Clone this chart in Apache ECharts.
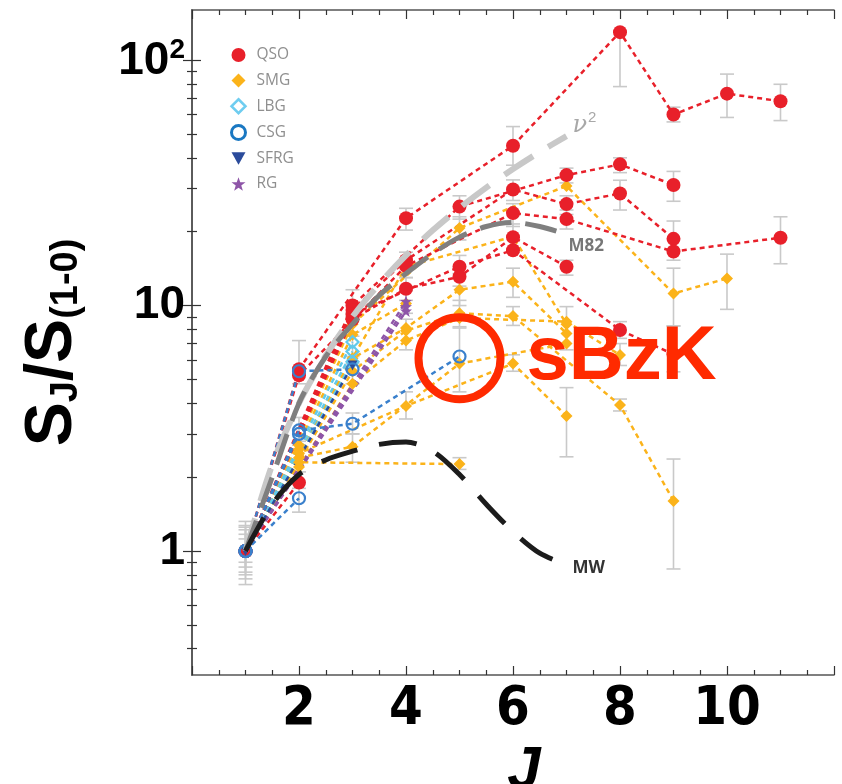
<!DOCTYPE html>
<html>
<head>
<meta charset="utf-8">
<script src="https://cdn.jsdelivr.net/npm/echarts@6/dist/echarts.min.js"></script>
<style>
html,body{margin:0;padding:0;background:#fff;}
#chart{width:842px;height:784px;}
</style>
</head>
<body>
<div id="chart"></div>
<script>
// ---- axis ranges and ticks ----
const J_MIN = 0, J_MAX = 12;
const Y_MIN = 0.3125, Y_MAX = 160;
const yMajorTicks = [1, 10, 100];
const yMinorTicks = [0.4, 0.5, 0.6, 0.7, 0.8, 0.9, 2, 3, 4, 5, 6, 7, 8, 9, 20, 30, 40, 50, 60, 70, 80, 90];
const xLabelValues = [2, 4, 6, 8, 10];

// ---- CO SLEDs normalised to the J=1-0 line: [J, S_J/S_1-0] ----
// QSO
const qsoA = [[1,1],[2,5.5],[4,22.7],[6,44.8],[8,130],[9,60],[10,73],[11,68]];
const qsoB = [[1,1],[3,10.0],[5,25.3],[7,34],[8,37.6],[9,31]];
const qsoC = [[1,1],[3,9.6],[4,15.3],[6,29.7],[7,25.9],[8,28.6],[9,18.7]];
const qsoD = [[1,1],[2,5.2],[4,14.5],[6,23.8],[7,22.5],[9,16.6],[11,18.9]];
const qsoE = [[1,1],[3,9.2],[5,14.4],[6,16.8],[8,7.95],[9,6.33]];
const qsoF = [[1,1],[3,8.8],[4,11.7],[5,13.1],[6,19.0],[7,14.4]];
const qsoG = [[1,1],[2,1.9]];
// SMG
const smgA = [[1,1],[3,8.4],[5,20.7],[7,30.7],[9,11.2],[10,12.9]];
const smgB = [[1,1],[2,2.6],[4,14.4],[6,19.1],[7,8.4]];
const smgC = [[1,1],[3,6.1],[4,8.1],[5,11.6],[6,12.5],[7,7.7]];
const smgD = [[1,1],[3,5.4],[4,7.9],[5,9.3],[6,9.06],[8,3.93],[9,1.6]];
const smgE = [[1,1],[3,4.8],[4,7.2],[5,8.9],[7,8.6],[8,6.29]];
const smgF = [[1,1],[2,2.5],[4,3.9],[6,5.8],[7,3.55]];
const smgG = [[1,1],[2,2.4],[3,2.66],[5,5.8],[7,7.0]];
const smgH = [[1,1],[2,2.3],[5,2.26]];
const smgI = [[1,1],[2,2.7]];
const smgJ = [[1,1],[2,2.2]];
const smgK = [[1,1],[3,7.6],[4,10.2]];
// LBG
const lbgA = [[1,1],[3,7.1]];
const lbgB = [[1,1],[3,6.5]];
const lbgC = [[1,1],[3,5.9]];
// CSG
const csgA = [[1,1],[2,5.4],[3,5.5]];
const csgB = [[1,1],[2,3.1],[3,3.3],[5,6.2]];
const csgC = [[1,1],[2,3.0]];
const csgD = [[1,1],[2,1.64]];
// SFRG
const sfrgA = [[1,1],[3,5.7]];
// RG
const rgA = [[1,1],[4,10.4]];
const rgB = [[1,1],[4,9.9]];
const rgC = [[1,1],[4,9.5]];

// ---- model curves ----
const nuSquared = [[1,1],[1.5,2.25],[2,4],[2.5,6.25],[3,9],[3.5,12.25],[4,16],[4.5,20.25],[5,25],[5.5,30.25],[6,36],[6.5,42.25],[7,49]];
const m82 = [[1,1],[1.5,2.0],[2,4.0],[2.5,6.2],[3,8.4],[3.5,11],[4,13.5],[4.5,16.3],[5,19],[5.5,21],[6,21.8],[6.5,21],[7,19.5]];
const milkyWay = [[1,1],[1.5,1.55],[2,2.05],[2.5,2.35],[3,2.55],[3.5,2.72],[4,2.78],[4.5,2.55],[5,2.05],[5.5,1.55],[6,1.2],[6.5,0.98],[7,0.88]];

// ---- error bars: [J, low, high] ----
const errorBars = [
  [1,0.73,1.32],[1,0.77,1.27],[1,0.82,1.22],[1,0.86,1.17],[1,0.9,1.12],[1,0.8,1.25],
  [2,4.8,7.2],[2,2.7,3.5],[2,2.1,2.8],[2,1.44,1.8],
  [3,9.0,11.6],[3,7.5,9.3],[3,5.8,7.8],[3,4.8,6.2],[3,3.0,3.65],[3,2.3,3.0],
  [4,20.3,24.9],[4,13,16.5],[4,10.5,13],[4,9.3,11.5],[4,6.6,8.8],[4,3.45,4.45],
  [5,22.5,28],[5,18.5,23],[5,12,16],[5,10,13.5],[5,8.2,10.5],[5,4.45,8.1],[5,2.15,2.4],
  [6,37.3,53.6],[6,26.8,32.5],[6,21,26],[6,16.5,21.5],[6,10.8,14.2],[6,8.3,9.9],[6,5.4,6.3],
  [7,31.6,36.3],[7,23.5,28],[7,20.5,24.5],[7,13.3,15.3],[7,6.6,9.9],[7,2.42,4.63],
  [8,78,131],[8,34.8,40.0],[8,24.5,32.4],[8,7.35,8.6],[8,5.7,7.0],[8,3.72,4.16],
  [9,56,64.3],[9,26.6,35.2],[9,15.3,22.1],[9,5.37,8.26],[9,8.26,14.2],[9,0.845,2.37],
  [10,58.4,87.7],[10,9.65,16.2],
  [11,56.7,79.7],[11,14.8,23.0]
];

// ---- highlighted sBzK position ----
const sbzkMark = [[5, 6.1]];

// ---- styling ----
const C = {
  QSO: '#e8202a', SMG: '#fbb31a', LBG: '#62c9ea', CSG: '#3a80cc',
  SFRG: '#2b4b9b', RG: '#8e55a8', err: '#c9c9c9', axis: '#555'
};
const STAR = 'path://M50,2 L62,36 L98,37 L69,59 L80,95 L50,74 L20,95 L31,59 L2,37 L38,36 Z';
const TRI_DOWN = 'path://M0,0 L10,0 L5,9 Z';
const DASH = [5, 4];
const CLEAR = 'rgba(0,0,0,0)';

function sled(name, data, opts) {
  return {
    type: 'line', name: name, data: data,
    symbol: opts.symbol, symbolSize: opts.size,
    itemStyle: Object.assign({ color: C[name], opacity: 1 }, opts.item || {}),
    lineStyle: { color: C[name], width: 2.5, type: DASH },
    emphasis: { disabled: true }, silent: true, z: opts.z || 3
  };
}

const series = [];
// error bars beneath everything
series.push({
  type: 'custom', name: 'errors', data: errorBars, z: 1, silent: true,
  encode: { x: 0, y: [1, 2] },
  renderItem: function (params, api) {
    const x = api.value(0);
    const lo = api.coord([x, api.value(1)]);
    const hi = api.coord([x, api.value(2)]);
    const hw = 7;
    const st = { stroke: C.err, lineWidth: 1.6 };
    return {
      type: 'group', children: [
        { type: 'line', shape: { x1: lo[0], y1: lo[1], x2: hi[0], y2: hi[1] }, style: st },
        { type: 'line', shape: { x1: lo[0] - hw, y1: lo[1], x2: lo[0] + hw, y2: lo[1] }, style: st },
        { type: 'line', shape: { x1: hi[0] - hw, y1: hi[1], x2: hi[0] + hw, y2: hi[1] }, style: st }
      ]
    };
  }
});
[smgA, smgB, smgC, smgD, smgE, smgF, smgG, smgH, smgI, smgJ, smgK].forEach(d =>
  series.push(sled('SMG', d, { symbol: 'diamond', size: 12 })));
[lbgA, lbgB, lbgC].forEach(d =>
  series.push(sled('LBG', d, { symbol: 'diamond', size: 12,
    item: { color: CLEAR, borderColor: C.LBG, borderWidth: 2.2 } })));
[rgA, rgB, rgC].forEach(d =>
  series.push(sled('RG', d, { symbol: STAR, size: 12 })));
[qsoA, qsoB, qsoC, qsoD, qsoE, qsoF, qsoG].forEach(d =>
  series.push(sled('QSO', d, { symbol: 'circle', size: 14 })));
[sfrgA].forEach(d =>
  series.push(sled('SFRG', d, { symbol: TRI_DOWN, size: 10 })));
[csgA, csgB, csgC, csgD].forEach(d =>
  series.push(sled('CSG', d, { symbol: 'circle', size: 12,
    item: { color: CLEAR, borderColor: C.CSG, borderWidth: 2.2 } })));

// model curves
function model(name, data, color, width, dash, endLabel) {
  return {
    type: 'line', name: name, data: data, smooth: 0.3, symbol: 'none', silent: true,
    lineStyle: { color: color, width: width, type: dash, cap: 'butt' },
    emphasis: { disabled: true }, z: 5, endLabel: endLabel
  };
}
series.push(model('nu2', nuSquared, '#c8c8c8', 6, [34, 18], {
  show: true, formatter: '{v|ν}{s|2}', distance: 6, offset: [0, -12],
  rich: {
    v: { fontFamily: 'DejaVu Serif', fontStyle: 'italic', fontSize: 24, color: '#a8a8a8', verticalAlign: 'bottom' },
    s: { fontFamily: 'Liberation Sans', fontSize: 15, color: '#a8a8a8', verticalAlign: 'bottom', padding: [0, 0, 12, 1] }
  }
}));
series.push(model('M82', m82, '#7f7f7f', 5, [32, 14], {
  show: true, formatter: 'M82', distance: 2, offset: [0, 12],
  color: '#777', fontFamily: 'Open Sans', fontWeight: 'bold', fontSize: 17
}));
series.push(model('MW', milkyWay, '#1c1c1c', 5, [38, 22], {
  show: true, formatter: 'MW', distance: 6, offset: [0, 4],
  color: '#333', fontFamily: 'Open Sans', fontWeight: 'bold', fontSize: 17
}));

// sBzK marker and label
series.push({
  type: 'scatter', name: 'sBzK', data: sbzkMark, z: 10, silent: true,
  symbol: 'circle', symbolSize: 82,
  itemStyle: { color: CLEAR, borderColor: '#ff2a00', borderWidth: 8, opacity: 1 },
  label: {
    show: true, position: 'right', distance: 22, formatter: 'sBzK', opacity: 1,
    color: '#ff2a00', fontFamily: 'Liberation Sans', fontWeight: 'bold', fontSize: 76
  }
});

const tickStyle = { color: '#333', width: 1.2 };
const frameLine = { show: true, lineStyle: { color: C.axis, width: 1.6 } };
const GRID = { left: 192, right: 8, top: 10, bottom: 109, containLabel: false, outerBoundsMode: 'none' };

function yAxisDef(gridIndex, position, ticks, len, extra) {
  return Object.assign({
    gridIndex: gridIndex,
    type: 'log', logBase: 10, min: Y_MIN, max: Y_MAX, position: position,
    axisLine: { show: false },
    axisTick: { show: true, inside: true, length: len, customValues: ticks, lineStyle: tickStyle },
    axisLabel: { show: false },
    splitLine: { show: false }
  }, extra || {});
}
function xAxisDef(gridIndex, position, extra) {
  return Object.assign({
    gridIndex: gridIndex,
    type: 'value', min: J_MIN, max: J_MAX, interval: 2, position: position,
    axisLine: frameLine,
    axisTick: { show: true, inside: true, length: 9, lineStyle: tickStyle },
    minorTick: { show: true, splitNumber: 4, length: 5, lineStyle: tickStyle },
    splitLine: { show: false }, axisLabel: { show: false }
  }, extra || {});
}

const option = {
  animation: false,
  backgroundColor: '#fff',
  // grid 0 carries the data and major ticks; grid 1 (same box) carries the minor y ticks
  grid: [GRID, Object.assign({}, GRID)],
  legend: {
    orient: 'vertical', left: 225, top: 42, itemWidth: 14, itemHeight: 14, itemGap: 9.5,
    selectedMode: false,
    textStyle: { color: '#8f8f8f', fontSize: 15.5, fontFamily: 'Open Sans', padding: [0, 0, 0, 6] },
    data: [
      { name: 'QSO', icon: 'circle', itemStyle: { color: C.QSO } },
      { name: 'SMG', icon: 'diamond', itemStyle: { color: C.SMG } },
      { name: 'LBG', icon: 'diamond', itemStyle: { color: '#fff', borderColor: '#6fcdf0', borderWidth: 2.5 } },
      { name: 'CSG', icon: 'circle', itemStyle: { color: '#fff', borderColor: '#1a78c2', borderWidth: 3 } },
      { name: 'SFRG', icon: TRI_DOWN, itemStyle: { color: C.SFRG } },
      { name: 'RG', icon: STAR, itemStyle: { color: C.RG } }
    ]
  },
  xAxis: [
    xAxisDef(0, 'bottom', {
      axisLabel: {
        show: true, margin: 8, color: '#000', fontSize: 54, fontWeight: 'bold',
        fontFamily: "'Liberation Sans Narrow', 'DejaVu Sans Condensed', 'Liberation Sans', sans-serif",
        formatter: v => (xLabelValues.indexOf(v) >= 0 ? String(v) : '')
      },
      name: 'J', nameLocation: 'middle', nameGap: 47,
      nameTextStyle: { color: '#000', fontSize: 60, fontWeight: 'bold', fontStyle: 'italic', fontFamily: 'Liberation Sans', padding: [0, 0, 0, 22] }
    }),
    xAxisDef(0, 'top'),
    xAxisDef(1, 'bottom', { show: false }),
    xAxisDef(1, 'top', { show: false })
  ],
  yAxis: [
    yAxisDef(0, 'left', yMajorTicks, 9, {
      axisLine: frameLine,
      axisLabel: {
        show: true, customValues: yMajorTicks, margin: 7,
        formatter: v => (v >= 100 ? '{a|10}{p|2}' : '{a|' + v + '}'),
        rich: {
          a: { fontSize: 46, fontWeight: 'bold', color: '#000', fontFamily: 'Liberation Sans', verticalAlign: 'bottom' },
          p: { fontSize: 28, fontWeight: 'bold', color: '#000', fontFamily: 'Liberation Sans', verticalAlign: 'bottom', padding: [0, 0, 20, 0] }
        }
      },
      name: '{b|S}{s|J}{b|/S}{s|(1-0)}', nameLocation: 'middle', nameRotate: 90, nameGap: 106,
      nameTextStyle: {
        rich: {
          b: { fontSize: 66, fontWeight: 'bold', color: '#000', fontFamily: 'Liberation Sans', verticalAlign: 'bottom' },
          s: { fontSize: 38, fontWeight: 'bold', color: '#000', fontFamily: 'Liberation Sans', verticalAlign: 'bottom' }
        }
      }
    }),
    yAxisDef(0, 'right', yMajorTicks, 9, { axisLine: frameLine }),
    yAxisDef(1, 'left', yMinorTicks, 5),
    yAxisDef(1, 'right', yMinorTicks, 5)
  ],
  series: series
};

const chart = echarts.init(document.getElementById('chart'), null, { renderer: 'canvas' });
chart.setOption(option);
</script>
</body>
</html>
